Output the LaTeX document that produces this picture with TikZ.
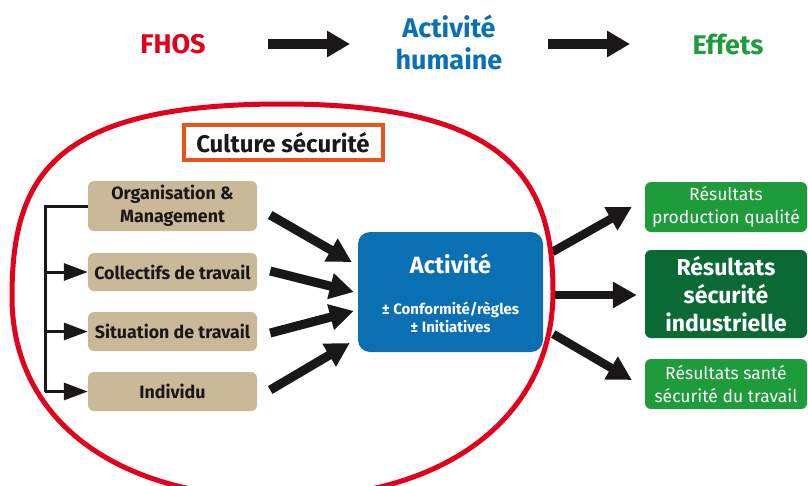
\documentclass[tikz,border=0pt]{standalone}
\usepackage{fontspec}
\setmainfont{Fira Sans}
\usetikzlibrary{arrows.meta,calc}
\definecolor{fred}{HTML}{E2001A}
\definecolor{fblue}{HTML}{0B6FB3}
\definecolor{fgreen}{HTML}{1E9B3A}
\definecolor{fdgreen}{HTML}{0B6934}
\definecolor{ftan}{HTML}{C9B999}
\definecolor{forange}{HTML}{E8541C}
\definecolor{fblack}{HTML}{1A1718}
\tikzset{
  tanbox/.style={fill=ftan, rounded corners=6pt, minimum width=169pt, align=center,
    font=\fontsize{17.8}{23}\selectfont\bfseries, text=fblack, inner sep=0pt},
  greenbox/.style={fill=fgreen, rounded corners=6pt, minimum width=162pt, align=center,
    font=\fontsize{17.5}{23}\selectfont, text=white, inner sep=0pt, minimum height=50pt},
  bigarrow/.style={draw=fblack, line width=9pt, -{Triangle[length=24pt,width=25pt]}},
  toparrow/.style={draw=fblack, line width=10pt, -{Triangle[length=23pt,width=25pt]}},
  brk/.style={draw=fblack, line width=3pt},
  brkarrow/.style={draw=fblack, line width=3pt, -{Triangle[length=24pt,width=17pt]}},
  title/.style={font=\fontsize{27}{32}\selectfont\bfseries, align=center},
}
\begin{document}
\begin{tikzpicture}[x=1pt,y=-1pt]
\useasboundingbox (0,0) rectangle (808,485);
% titles
\node[title, text=fred] (fhos) at (173,44) {FHOS};
\node[title, text=fblue] (acth) at (449,42) {Activité\\humaine};
\node[title, text=fgreen] (eff) at (728,44) {Effets};
\coordinate (t1s) at (268,44);
\coordinate (t1e) at (350,44);
\coordinate (t2s) at (548,44);
\coordinate (t2e) at (630,44);
\draw[toparrow] (t1s) -- (t1e);
\draw[toparrow] (t2s) -- (t2e);
% culture box
\node[draw=forange, line width=4pt, minimum width=199pt, minimum height=35pt, inner sep=0pt,
  font=\fontsize{24}{28}\selectfont\bfseries, text=fblack] (cult) at (283,142.5) {Culture sécurité};
% tan boxes
\node[tanbox, minimum height=50pt] (org) at (172.5,206) {Organisation \&\\Management};
\node[tanbox, minimum height=38pt] (coll) at (172.5,272) {Collectifs de travail};
\node[tanbox, minimum height=39pt] (sit) at (172.5,331.5) {Situation de travail};
\node[tanbox, minimum height=39pt] (ind) at (172.5,391.5) {Individu};
% bracket
\coordinate (bx) at (45,0);
\draw[brk] (org.west) -- (org.west -| bx) -- (ind.west -| bx);
\draw[brkarrow] (coll.west -| bx) -- (coll.west);
\draw[brkarrow] (sit.west -| bx) -- (sit.west);
\draw[brkarrow] (ind.west -| bx) -- (ind.west);
% activity box
\node[fill=fblue, rounded corners=12pt, minimum width=185pt, minimum height=120pt, inner sep=0pt] (act) at (450.5,292) {};
\node[text=white, font=\fontsize{23.5}{28}\selectfont\bfseries] (actt) at (450.5,264) {Activité};
\node[text=white, font=\fontsize{15}{18}\selectfont\bfseries, align=center] (actr) at (450.5,317) {± Conformité/règles\\± Initiatives};
% arrows into activity
\draw[bigarrow] ($(org.east)+(13,9)$) -- ($(act.west)+(-6,-30)$);
\draw[bigarrow] ($(coll.east)+(13,-1)$) -- ($(act.west)+(-4,0)$);
\draw[bigarrow] ($(sit.east)+(13,1.5)$) -- ($(act.west)+(-4,19)$);
\draw[bigarrow] ($(ind.east)+(13,-1.5)$) -- ($(act.west)+(-8,51)$);
% results
\node[greenbox] (resa) at (726,207) {Résultats\\production qualité};
\node[greenbox, fill=fdgreen, minimum height=88pt, font=\fontsize{23}{28}\selectfont\bfseries] (resb) at (726,294) {Résultats\\sécurité\\industrielle};
\node[greenbox] (resc) at (726,384) {Résultats santé\\sécurité du travail};
\draw[bigarrow, line width=8.5pt] ($(act.east)+(9,-40)$) -- ($(resa.west)+(-13,0)$);
\draw[bigarrow, line width=8.5pt] ($(act.east)+(10,3)$) -- ($(resb.west)+(-8,1)$);
\draw[bigarrow, line width=8.5pt] ($(act.east)+(10,42)$) -- ($(resc.west)+(-13,-4)$);
% red outline
\draw[fred, line width=5pt]
  (282,104) .. controls (52,104) and (12,177) .. (12,297)
  .. controls (12,417) and (112,498) .. (282,498)
  .. controls (452,498) and (553,412) .. (553,292)
  .. controls (553,182) and (512,104) .. (282,104) -- cycle;
\end{tikzpicture}
\end{document}
